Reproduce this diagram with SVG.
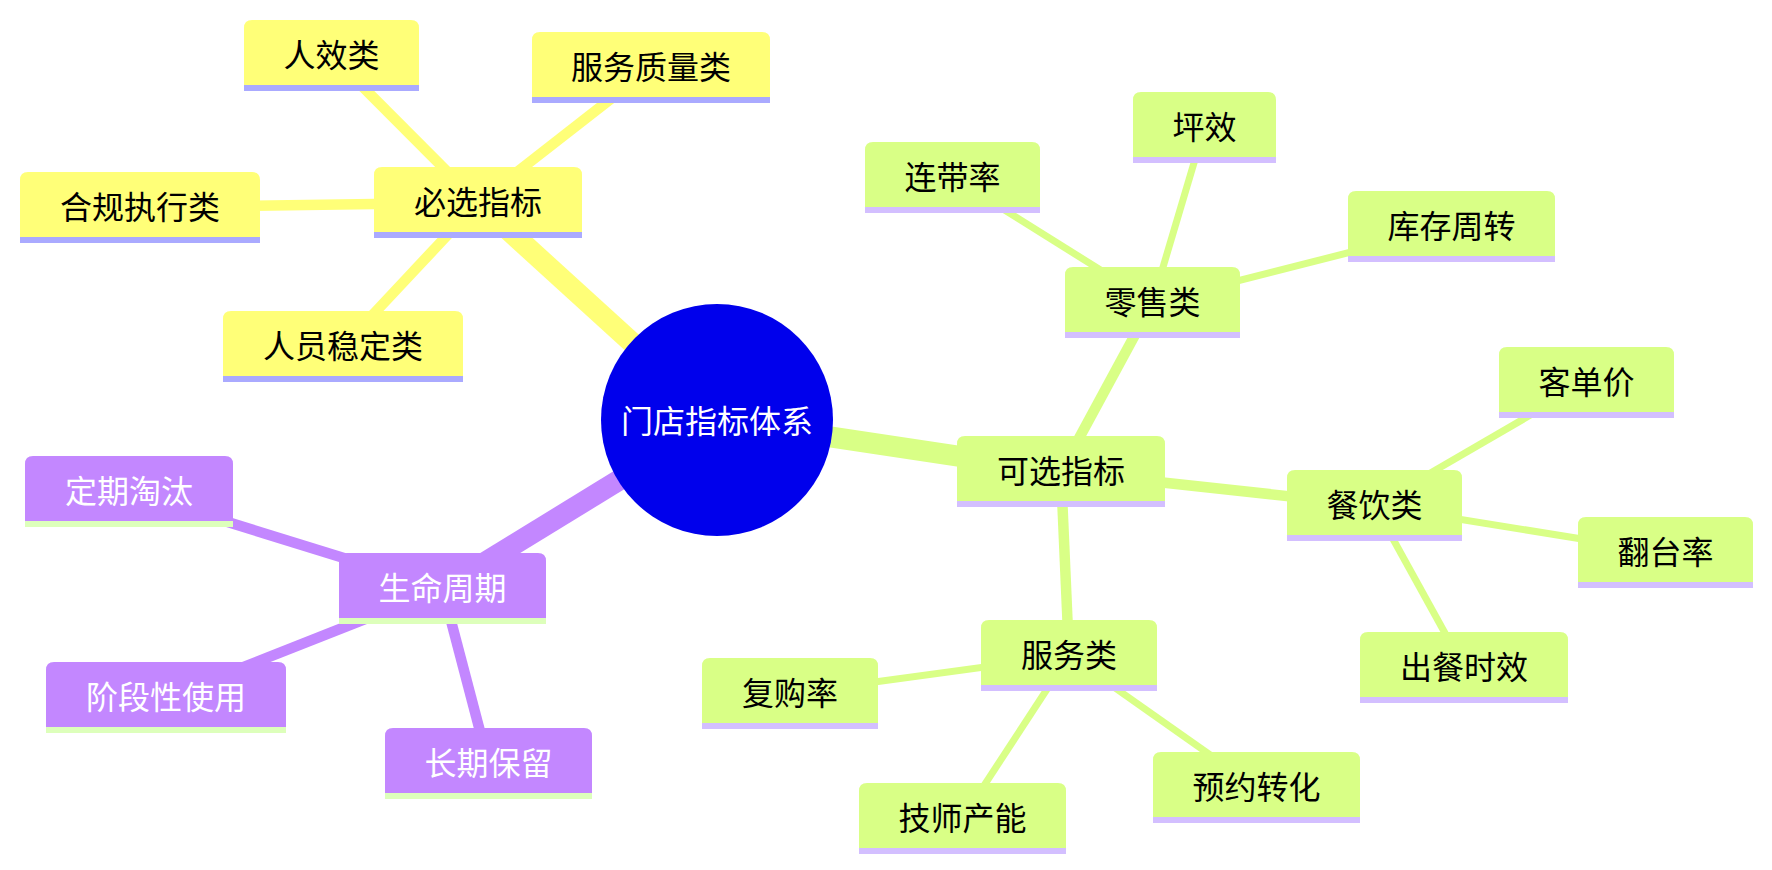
<svg xmlns="http://www.w3.org/2000/svg" width="1772" height="870" viewBox="0 0 1772 870">
<style>
text{font-family:"Noto Sans CJK SC","Noto Sans",sans-serif;font-size:32px;text-anchor:middle;dominant-baseline:central}
.e0{stroke-width:21;fill:none}
.e1{stroke-width:10.5;fill:none}
.e2{stroke-width:7;fill:none}
.ey{stroke:#ffff78}
.eg{stroke:#d9ff86}
.ep{stroke:#c387ff}
.fy{fill:#ffff78}
.fg{fill:#d9ff86}
.fp{fill:#c387ff}
.ly{fill:#aaaaff}
.lg{fill:#d3bfff}
.lp{fill:#ddffbb}
.tb{fill:#000000}
.tw{fill:#ffffff}
</style>
<rect width="1772" height="870" fill="#ffffff"/>
<g id="connectors">
<line class="e0 ey" x1="717" y1="420" x2="478" y2="202.5"/>
<line class="e0 ep" x1="717" y1="420" x2="442.5" y2="588.5"/>
<line class="e0 eg" x1="717" y1="420" x2="1061" y2="471.5"/>
<line class="e1 ey" x1="478" y1="202.5" x2="331.5" y2="55.5"/>
<line class="e1 ey" x1="478" y1="202.5" x2="651" y2="67.5"/>
<line class="e1 ey" x1="478" y1="202.5" x2="140" y2="207.5"/>
<line class="e1 ey" x1="478" y1="202.5" x2="343" y2="346.5"/>
<line class="e1 ep" x1="442.5" y1="588.5" x2="129" y2="491.5"/>
<line class="e1 ep" x1="442.5" y1="588.5" x2="166" y2="697.5"/>
<line class="e1 ep" x1="442.5" y1="588.5" x2="488.5" y2="763.5"/>
<line class="e1 eg" x1="1061" y1="471.5" x2="1152.5" y2="302.5"/>
<line class="e1 eg" x1="1061" y1="471.5" x2="1374.5" y2="505.5"/>
<line class="e1 eg" x1="1061" y1="471.5" x2="1069" y2="655.5"/>
<line class="e2 eg" x1="1152.5" y1="302.5" x2="952.5" y2="177.5"/>
<line class="e2 eg" x1="1152.5" y1="302.5" x2="1204.5" y2="127.5"/>
<line class="e2 eg" x1="1152.5" y1="302.5" x2="1451.5" y2="226.5"/>
<line class="e2 eg" x1="1374.5" y1="505.5" x2="1586.5" y2="382.5"/>
<line class="e2 eg" x1="1374.5" y1="505.5" x2="1665.5" y2="552.5"/>
<line class="e2 eg" x1="1374.5" y1="505.5" x2="1464" y2="667.5"/>
<line class="e2 eg" x1="1069" y1="655.5" x2="790" y2="693.5"/>
<line class="e2 eg" x1="1069" y1="655.5" x2="962.5" y2="818.5"/>
<line class="e2 eg" x1="1069" y1="655.5" x2="1256.5" y2="787.5"/>
</g>
<g id="root">
<circle cx="717" cy="420" r="116" fill="#0000ec"/>
<text class="tw" x="717" y="419">门店指标体系</text>
</g>
<g id="n-bixuan">
<path class="fy" d="M374,232 V175 Q374,167 382,167 H574 Q582,167 582,175 V232 Z"/>
<rect class="ly" x="374" y="232" width="208" height="6"/>
<text class="tb" x="478" y="200">必选指标</text>
</g>
<g id="n-renxiao">
<path class="fy" d="M244,85 V28 Q244,20 252,20 H411 Q419,20 419,28 V85 Z"/>
<rect class="ly" x="244" y="85" width="175" height="6"/>
<text class="tb" x="331.5" y="53">人效类</text>
</g>
<g id="n-fuwuzhiliang">
<path class="fy" d="M532,97 V40 Q532,32 540,32 H762 Q770,32 770,40 V97 Z"/>
<rect class="ly" x="532" y="97" width="238" height="6"/>
<text class="tb" x="651" y="65">服务质量类</text>
</g>
<g id="n-heguI">
<path class="fy" d="M20,237 V180 Q20,172 28,172 H252 Q260,172 260,180 V237 Z"/>
<rect class="ly" x="20" y="237" width="240" height="6"/>
<text class="tb" x="140" y="205">合规执行类</text>
</g>
<g id="n-renyuan">
<path class="fy" d="M223,376 V319 Q223,311 231,311 H455 Q463,311 463,319 V376 Z"/>
<rect class="ly" x="223" y="376" width="240" height="6"/>
<text class="tb" x="343" y="344">人员稳定类</text>
</g>
<g id="n-shengming">
<path class="fp" d="M339,618 V561 Q339,553 347,553 H538 Q546,553 546,561 V618 Z"/>
<rect class="lp" x="339" y="618" width="207" height="6"/>
<text class="tw" x="442.5" y="586">生命周期</text>
</g>
<g id="n-dingqi">
<path class="fp" d="M25,521 V464 Q25,456 33,456 H225 Q233,456 233,464 V521 Z"/>
<rect class="lp" x="25" y="521" width="208" height="6"/>
<text class="tw" x="129" y="489">定期淘汰</text>
</g>
<g id="n-jieduan">
<path class="fp" d="M46,727 V670 Q46,662 54,662 H278 Q286,662 286,670 V727 Z"/>
<rect class="lp" x="46" y="727" width="240" height="6"/>
<text class="tw" x="166" y="695">阶段性使用</text>
</g>
<g id="n-changqi">
<path class="fp" d="M385,793 V736 Q385,728 393,728 H584 Q592,728 592,736 V793 Z"/>
<rect class="lp" x="385" y="793" width="207" height="6"/>
<text class="tw" x="488.5" y="761">长期保留</text>
</g>
<g id="n-kexuan">
<path class="fg" d="M957,501 V444 Q957,436 965,436 H1157 Q1165,436 1165,444 V501 Z"/>
<rect class="lg" x="957" y="501" width="208" height="6"/>
<text class="tb" x="1061" y="469">可选指标</text>
</g>
<g id="n-lingshou">
<path class="fg" d="M1065,332 V275 Q1065,267 1073,267 H1232 Q1240,267 1240,275 V332 Z"/>
<rect class="lg" x="1065" y="332" width="175" height="6"/>
<text class="tb" x="1152.5" y="300">零售类</text>
</g>
<g id="n-liandai">
<path class="fg" d="M865,207 V150 Q865,142 873,142 H1032 Q1040,142 1040,150 V207 Z"/>
<rect class="lg" x="865" y="207" width="175" height="6"/>
<text class="tb" x="952.5" y="175">连带率</text>
</g>
<g id="n-pingxiao">
<path class="fg" d="M1133,157 V100 Q1133,92 1141,92 H1268 Q1276,92 1276,100 V157 Z"/>
<rect class="lg" x="1133" y="157" width="143" height="6"/>
<text class="tb" x="1204.5" y="125">坪效</text>
</g>
<g id="n-kucun">
<path class="fg" d="M1348,256 V199 Q1348,191 1356,191 H1547 Q1555,191 1555,199 V256 Z"/>
<rect class="lg" x="1348" y="256" width="207" height="6"/>
<text class="tb" x="1451.5" y="224">库存周转</text>
</g>
<g id="n-canyin">
<path class="fg" d="M1287,535 V478 Q1287,470 1295,470 H1454 Q1462,470 1462,478 V535 Z"/>
<rect class="lg" x="1287" y="535" width="175" height="6"/>
<text class="tb" x="1374.5" y="503">餐饮类</text>
</g>
<g id="n-kedanjia">
<path class="fg" d="M1499,412 V355 Q1499,347 1507,347 H1666 Q1674,347 1674,355 V412 Z"/>
<rect class="lg" x="1499" y="412" width="175" height="6"/>
<text class="tb" x="1586.5" y="380">客单价</text>
</g>
<g id="n-fantai">
<path class="fg" d="M1578,582 V525 Q1578,517 1586,517 H1745 Q1753,517 1753,525 V582 Z"/>
<rect class="lg" x="1578" y="582" width="175" height="6"/>
<text class="tb" x="1665.5" y="550">翻台率</text>
</g>
<g id="n-chucan">
<path class="fg" d="M1360,697 V640 Q1360,632 1368,632 H1560 Q1568,632 1568,640 V697 Z"/>
<rect class="lg" x="1360" y="697" width="208" height="6"/>
<text class="tb" x="1464" y="665">出餐时效</text>
</g>
<g id="n-fuwu">
<path class="fg" d="M981,685 V628 Q981,620 989,620 H1149 Q1157,620 1157,628 V685 Z"/>
<rect class="lg" x="981" y="685" width="176" height="6"/>
<text class="tb" x="1069" y="653">服务类</text>
</g>
<g id="n-fugou">
<path class="fg" d="M702,723 V666 Q702,658 710,658 H870 Q878,658 878,666 V723 Z"/>
<rect class="lg" x="702" y="723" width="176" height="6"/>
<text class="tb" x="790" y="691">复购率</text>
</g>
<g id="n-jishi">
<path class="fg" d="M859,848 V791 Q859,783 867,783 H1058 Q1066,783 1066,791 V848 Z"/>
<rect class="lg" x="859" y="848" width="207" height="6"/>
<text class="tb" x="962.5" y="816">技师产能</text>
</g>
<g id="n-yuyue">
<path class="fg" d="M1153,817 V760 Q1153,752 1161,752 H1352 Q1360,752 1360,760 V817 Z"/>
<rect class="lg" x="1153" y="817" width="207" height="6"/>
<text class="tb" x="1256.5" y="785">预约转化</text>
</g>
</svg>
